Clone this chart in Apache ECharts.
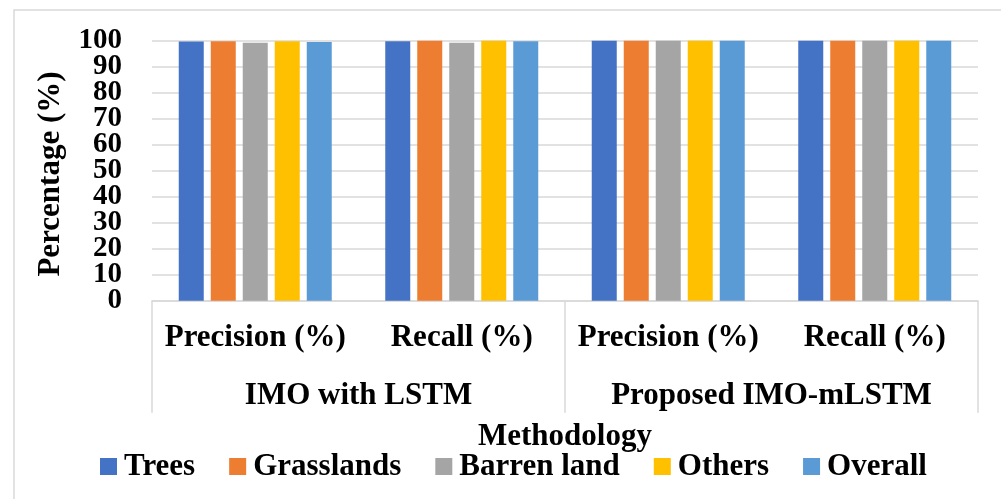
<!DOCTYPE html>
<html>
<head>
<meta charset="utf-8">
<script src="https://cdn.jsdelivr.net/npm/echarts@6/dist/echarts.min.js"></script>
<style>html,body{margin:0;padding:0;background:#fff}#c{width:1001px;height:499px}</style>
</head>
<body>
<div id="c"></div>
<script>
const categories = ['Precision (%)', 'Recall (%)', 'Precision (%)', 'Recall (%)'];
const groups = ['IMO with LSTM', 'Proposed IMO-mLSTM'];
const seriesNames = ['Trees', 'Grasslands', 'Barren land', 'Others', 'Overall'];
const trees = [99.7, 99.8, 100, 100];
const grasslands = [99.8, 100, 100, 100];
const barrenLand = [99.2, 99.2, 100, 100];
const others = [99.8, 100, 100, 100];
const overall = [99.5, 99.8, 100, 100];
const yTicks = [0, 10, 20, 30, 40, 50, 60, 70, 80, 90, 100];
const colors = ['#4472C4', '#ED7D31', '#A5A5A5', '#FFC000', '#5B9BD5'];

const FONT = "'Times New Roman', 'Liberation Serif', serif";
const GRID_COLOR = '#d9d9d9';
const values = [trees, grasslands, barrenLand, others, overall];
const yMin = yTicks[0];
const yMax = yTicks[yTicks.length - 1];
const yLabelStyle = {margin: 30, fontFamily: FONT, fontWeight: 'bold', fontSize: 29, color: '#000', hideOverlap: false};

const chart = echarts.init(document.getElementById('c'), null, {renderer: 'canvas'});
chart.setOption({
  animation: false,
  backgroundColor: '#fff',
  color: colors,
  textStyle: {fontFamily: FONT},
  grid: {left: 152, right: 23, top: 40.7, bottom: 198.3, containLabel: false},
  xAxis: [{
    type: 'category',
    position: 'bottom',
    data: categories,
    axisLine: {show: true, lineStyle: {color: GRID_COLOR, width: 1.5}},
    axisTick: {show: false},
    axisLabel: {interval: 0, hideOverlap: false, margin: 22, fontFamily: FONT, fontWeight: 'bold', fontSize: 31, color: '#000'}
  }, {
    type: 'category',
    position: 'bottom',
    data: groups,
    axisLine: {show: false},
    axisTick: {show: true, interval: 0, length: 112, lineStyle: {color: GRID_COLOR, width: 1.5}},
    axisLabel: {interval: 0, hideOverlap: false, margin: 80, fontFamily: FONT, fontWeight: 'bold', fontSize: 31, color: '#000'}
  }],
  yAxis: [{
    type: 'value',
    position: 'left',
    min: yMin,
    max: yMax,
    interval: yTicks[1] - yTicks[0],
    axisLine: {show: false},
    axisTick: {show: false},
    splitLine: {lineStyle: {color: GRID_COLOR, width: 1.5}},
    axisLabel: Object.assign({showMinLabel: false, showMaxLabel: false}, yLabelStyle)
  }, {
    type: 'value',
    position: 'left',
    min: yMin,
    max: yMax,
    interval: yMax - yMin,
    axisLine: {show: false},
    axisTick: {show: false},
    splitLine: {show: false},
    axisLabel: Object.assign({showMinLabel: true, showMaxLabel: true}, yLabelStyle)
  }],
  legend: {
    left: 95,
    top: 446,
    itemWidth: 17,
    itemHeight: 17,
    itemGap: 34,
    icon: 'rect',
    textStyle: {fontFamily: FONT, fontWeight: 'bold', fontSize: 31, color: '#000', padding: [0, 0, 0, 2]},
    data: seriesNames
  },
  graphic: [
    {type: 'rect', z: -10, shape: {x: 14, y: 10, width: 1100, height: 600},
     style: {fill: 'none', stroke: GRID_COLOR, lineWidth: 1.5}},
    {type: 'text', x: 51, y: 174, rotation: Math.PI / 2,
     style: {text: 'Percentage (%)', font: "bold 31px " + FONT, fill: '#000', textAlign: 'center', textVerticalAlign: 'middle'}},
    {type: 'text', x: 565, y: 437,
     style: {text: 'Methodology', font: "bold 31px " + FONT, fill: '#000', textAlign: 'center', textVerticalAlign: 'middle'}}
  ],
  series: seriesNames.map((name, i) => ({
    name: name,
    type: 'bar',
    xAxisIndex: 0,
    yAxisIndex: 0,
    barWidth: 25,
    barGap: '28%',
    data: values[i]
  }))
});
</script>
</body>
</html>
